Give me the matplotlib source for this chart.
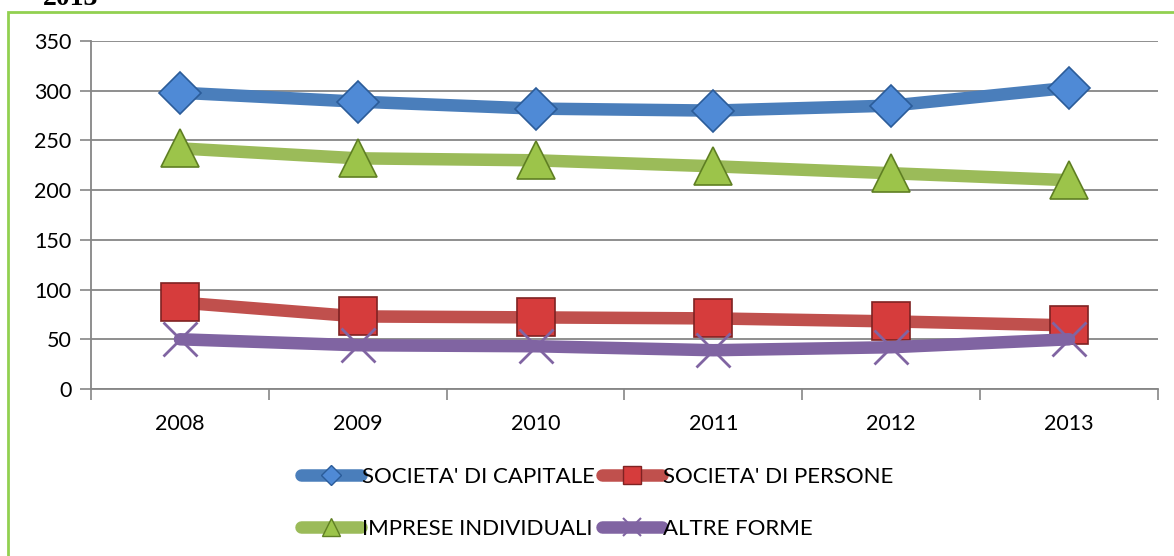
import matplotlib.pyplot as plt
from matplotlib.lines import Line2D
from matplotlib.patches import Rectangle

years = ['2008', '2009', '2010', '2011', '2012', '2013']
capitale = [298, 289, 282, 280, 285, 303]
persone = [87, 73, 72, 71, 68, 64]
individuali = [242, 232, 230, 224, 217, 210]
altre = [50, 44, 43, 39, 42, 50]

plt.rcParams['font.family'] = ['Lato', 'DejaVu Sans']

fig = plt.figure(figsize=(11.74, 5.56), dpi=100)
W, H = 1174, 556

# green frame of the chart area (cut off at right/bottom)
fig.patches.append(Rectangle((8 / W, -0.1), 1.2, 1 - 12 / H + 0.1, transform=fig.transFigure,
                             fill=False, edgecolor='#92D050', linewidth=2))
fig.text(43 / W, 1 - 5 / H, '2013', fontsize=20, fontweight='bold',
         family='Liberation Serif', va='baseline', ha='left')

ax = fig.add_axes([91 / W, 1 - 389 / H, (1158 - 91) / W, (389 - 41) / H])
x = range(len(years))

series = [
    (capitale, '#4A7EBB', 'D', '#4F8AD6', '#2B5C99', "SOCIETA' DI CAPITALE", 21),
    (persone, '#C0504D', 's', '#D63C3C', '#7F2222', "SOCIETA' DI PERSONE", 27),
    (individuali, '#9BBB59', '^', '#9CC44A', '#5F7F23', 'IMPRESE INDIVIDUALI', 27),
    (altre, '#8064A2', 'x', '#8064A2', '#8064A2', 'ALTRE FORME', 25),
]
handles = []
for vals, col, mk, face, edge, name, ms in series:
    ax.plot(x, vals, color=col, lw=9, solid_capstyle='round', solid_joinstyle='round',
            marker=mk, ms=ms, mfc=face, mec=edge, mew=2 if mk == 'x' else 1.2, zorder=3)
    handles.append(Line2D([], [], color=col, lw=9, solid_capstyle='round', marker=mk,
                          ms=13 if mk != 'D' else 10, mfc=face, mec=edge,
                          mew=1.5 if mk == 'x' else 1))

ax.set_xlim(-0.5, 5.5)
ax.set_ylim(0, 350)
ax.set_yticks(range(0, 351, 50))
ax.set_xticks(list(x))
ax.set_xticklabels(years)
ax.set_xticks([i - 0.5 for i in range(7)], minor=True)
ax.tick_params(axis='x', which='major', length=0, pad=18, labelsize=15.5)
ax.tick_params(axis='x', which='minor', length=8, color='#868686', width=1.2, direction='out')
ax.tick_params(axis='y', length=8, color='#868686', width=1.2, labelsize=15.5, pad=6)
ax.grid(axis='y', color='#868686', lw=1.3)
ax.set_axisbelow(True)
for s in ['top', 'right']:
    ax.spines[s].set_visible(False)
for s in ['left', 'bottom']:
    ax.spines[s].set_color('#868686')
    ax.spines[s].set_linewidth(1.3)

order = [0, 2, 1, 3]
fig.legend([handles[i] for i in order], [series[i][5] for i in order],
           ncol=2, loc='center', bbox_to_anchor=(597 / W, 1 - 503 / H),
           frameon=False, fontsize=16, handlelength=2.7, handletextpad=0.05,
           columnspacing=0.3, labelspacing=1.45)

fig.savefig('out.png', dpi=100)
